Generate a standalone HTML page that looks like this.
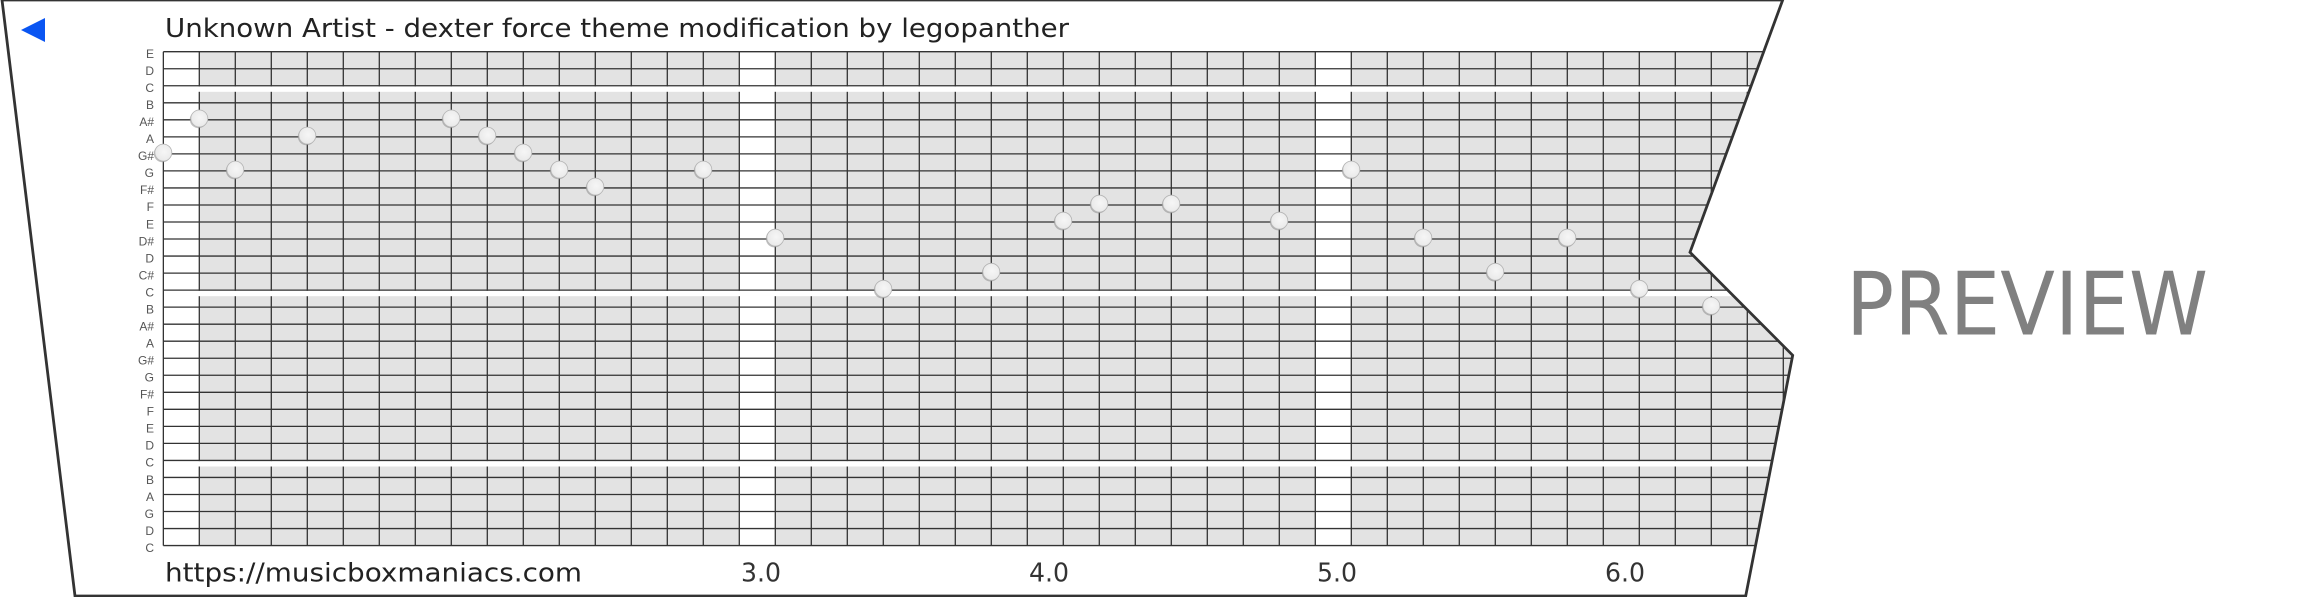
<!DOCTYPE html>
<html><head><meta charset="utf-8"><style>
html,body{margin:0;padding:0;background:#fff;}
svg{display:block;}
text{font-family:"Liberation Sans","DejaVu Sans",sans-serif;}
.dj{font-family:"DejaVu Sans","Liberation Sans",sans-serif;}
</style></head><body>
<svg width="2310" height="597" viewBox="0 0 2310 597" xmlns="http://www.w3.org/2000/svg">
<defs>
<clipPath id="cp"><polygon points="2,0 1782.7,0 1690,252.3 1792.7,355.3 1745.7,596 75,596"/></clipPath>
<radialGradient id="ng" cx="0.55" cy="0.45" r="0.6"><stop offset="0" stop-color="#f6f6f6"/><stop offset="0.8" stop-color="#ebebeb"/><stop offset="1" stop-color="#dcdcdc"/></radialGradient>
</defs>
<rect width="2310" height="597" fill="#fff"/>
<g clip-path="url(#cp)">
<rect x="199.3" y="51.7" width="1700" height="493.87" fill="#e3e3e3"/>
<rect x="739.3" y="40" width="36" height="520" fill="#fff"/>
<rect x="1315.3" y="40" width="36" height="520" fill="#fff"/>
<path stroke="#333" stroke-width="1.3" fill="none" d="
M199.3 51.7V545.57 M235.3 51.7V545.57 M271.3 51.7V545.57 M307.3 51.7V545.57 M343.3 51.7V545.57
M379.3 51.7V545.57 M415.3 51.7V545.57 M451.3 51.7V545.57 M487.3 51.7V545.57 M523.3 51.7V545.57
M559.3 51.7V545.57 M595.3 51.7V545.57 M631.3 51.7V545.57 M667.3 51.7V545.57 M703.3 51.7V545.57
M739.3 51.7V545.57 M775.3 51.7V545.57 M811.3 51.7V545.57 M847.3 51.7V545.57 M883.3 51.7V545.57
M919.3 51.7V545.57 M955.3 51.7V545.57 M991.3 51.7V545.57 M1027.3 51.7V545.57 M1063.3 51.7V545.57
M1099.3 51.7V545.57 M1135.3 51.7V545.57 M1171.3 51.7V545.57 M1207.3 51.7V545.57 M1243.3 51.7V545.57
M1279.3 51.7V545.57 M1315.3 51.7V545.57 M1351.3 51.7V545.57 M1387.3 51.7V545.57 M1423.3 51.7V545.57
M1459.3 51.7V545.57 M1495.3 51.7V545.57 M1531.3 51.7V545.57 M1567.3 51.7V545.57 M1603.3 51.7V545.57
M1639.3 51.7V545.57 M1675.3 51.7V545.57 M1711.3 51.7V545.57 M1747.3 51.7V545.57 M1783.3 51.7V545.57"/>
<rect x="164" y="86.4" width="1750" height="5.4" fill="#fff"/>
<rect x="164" y="290.8" width="1750" height="5.4" fill="#fff"/>
<rect x="164" y="461.1" width="1750" height="5.4" fill="#fff"/>
<path stroke="#333" stroke-width="1.3" fill="none" d="
M163.3 51.7H1900 M163.3 68.73H1900 M163.3 85.76H1900 M163.3 102.79H1900 M163.3 119.82H1900
M163.3 136.85H1900 M163.3 153.88H1900 M163.3 170.91H1900 M163.3 187.94H1900 M163.3 204.97H1900
M163.3 222H1900 M163.3 239.03H1900 M163.3 256.06H1900 M163.3 273.09H1900 M163.3 290.12H1900
M163.3 307.15H1900 M163.3 324.18H1900 M163.3 341.21H1900 M163.3 358.24H1900 M163.3 375.27H1900
M163.3 392.3H1900 M163.3 409.33H1900 M163.3 426.36H1900 M163.3 443.39H1900 M163.3 460.42H1900
M163.3 477.45H1900 M163.3 494.48H1900 M163.3 511.51H1900 M163.3 528.54H1900 M163.3 545.57H1900
M163.35 51.7V545.57"/>
</g>
<polygon points="2,0 1782.7,0 1690,252.3 1792.7,355.3 1745.7,596 75,596" fill="none" stroke="#333" stroke-width="2.8" stroke-linejoin="miter"/>
<polygon points="21,30 45,18 45,42" fill="#0a55f2"/>
<text class="dj" x="165" y="37" font-size="26" fill="#222" textLength="904" lengthAdjust="spacingAndGlyphs">Unknown Artist - dexter force theme modification by legopanther</text>
<g font-size="12" fill="#555" text-anchor="end">
<text x="154" y="58">E</text>
<text x="154" y="75">D</text>
<text x="154" y="92">C</text>
<text x="154" y="109">B</text>
<text x="154" y="126">A#</text>
<text x="154" y="143">A</text>
<text x="154" y="160">G#</text>
<text x="154" y="177">G</text>
<text x="154" y="194">F#</text>
<text x="154" y="211">F</text>
<text x="154" y="228.3">E</text>
<text x="154" y="245.3">D#</text>
<text x="154" y="262.4">D</text>
<text x="154" y="279.4">C#</text>
<text x="154" y="296.4">C</text>
<text x="154" y="313.5">B</text>
<text x="154" y="330.5">A#</text>
<text x="154" y="347.5">A</text>
<text x="154" y="364.5">G#</text>
<text x="154" y="381.6">G</text>
<text x="154" y="398.6">F#</text>
<text x="154" y="415.6">F</text>
<text x="154" y="432.7">E</text>
<text x="154" y="449.7">D</text>
<text x="154" y="466.7">C</text>
<text x="154" y="483.8">B</text>
<text x="154" y="500.8">A</text>
<text x="154" y="517.8">G</text>
<text x="154" y="534.8">D</text>
<text x="154" y="551.9">C</text>
</g>
<g>
<g fill="#8c8c8c" opacity="0.55">
<circle cx="162.5" cy="153.6" r="8.7"/><circle cx="198.5" cy="119.5" r="8.7"/><circle cx="234.5" cy="170.6" r="8.7"/><circle cx="306.5" cy="136.6" r="8.7"/>
<circle cx="450.5" cy="119.5" r="8.7"/><circle cx="486.5" cy="136.6" r="8.7"/><circle cx="522.5" cy="153.6" r="8.7"/><circle cx="558.5" cy="170.6" r="8.7"/>
<circle cx="594.5" cy="187.6" r="8.7"/><circle cx="702.5" cy="170.6" r="8.7"/><circle cx="774.5" cy="238.7" r="8.7"/><circle cx="882.5" cy="289.8" r="8.7"/>
<circle cx="990.5" cy="272.8" r="8.7"/><circle cx="1062.5" cy="221.7" r="8.7"/><circle cx="1098.5" cy="204.7" r="8.7"/><circle cx="1170.5" cy="204.7" r="8.7"/>
<circle cx="1278.5" cy="221.7" r="8.7"/><circle cx="1350.5" cy="170.6" r="8.7"/><circle cx="1422.5" cy="238.7" r="8.7"/><circle cx="1494.5" cy="272.8" r="8.7"/>
<circle cx="1566.5" cy="238.7" r="8.7"/><circle cx="1638.5" cy="289.8" r="8.7"/><circle cx="1710.5" cy="306.9" r="8.7"/>
</g>
<g fill="url(#ng)" stroke="#b4b4b4" stroke-width="0.8">
<circle cx="163.3" cy="152.6" r="8.5"/><circle cx="199.3" cy="118.5" r="8.5"/><circle cx="235.3" cy="169.6" r="8.5"/><circle cx="307.3" cy="135.6" r="8.5"/>
<circle cx="451.3" cy="118.5" r="8.5"/><circle cx="487.3" cy="135.6" r="8.5"/><circle cx="523.3" cy="152.6" r="8.5"/><circle cx="559.3" cy="169.6" r="8.5"/>
<circle cx="595.3" cy="186.6" r="8.5"/><circle cx="703.3" cy="169.6" r="8.5"/><circle cx="775.3" cy="237.7" r="8.5"/><circle cx="883.3" cy="288.8" r="8.5"/>
<circle cx="991.3" cy="271.8" r="8.5"/><circle cx="1063.3" cy="220.7" r="8.5"/><circle cx="1099.3" cy="203.7" r="8.5"/><circle cx="1171.3" cy="203.7" r="8.5"/>
<circle cx="1279.3" cy="220.7" r="8.5"/><circle cx="1351.3" cy="169.6" r="8.5"/><circle cx="1423.3" cy="237.7" r="8.5"/><circle cx="1495.3" cy="271.8" r="8.5"/>
<circle cx="1567.3" cy="237.7" r="8.5"/><circle cx="1639.3" cy="288.8" r="8.5"/><circle cx="1711.3" cy="305.9" r="8.5"/>
</g>
</g>
<text class="dj" x="165" y="581.7" font-size="26" fill="#222" textLength="417" lengthAdjust="spacingAndGlyphs">https://musicboxmaniacs.com</text>
<g class="dj" font-size="25.5" fill="#333">
<text class="dj" x="741" y="581.7" textLength="40" lengthAdjust="spacingAndGlyphs">3.0</text>
<text class="dj" x="1029" y="581.7" textLength="40" lengthAdjust="spacingAndGlyphs">4.0</text>
<text class="dj" x="1317" y="581.7" textLength="40" lengthAdjust="spacingAndGlyphs">5.0</text>
<text class="dj" x="1605" y="581.7" textLength="40" lengthAdjust="spacingAndGlyphs">6.0</text>
</g>
<text class="dj" x="1846" y="334.3" font-size="87" fill="#808080" textLength="362" lengthAdjust="spacingAndGlyphs">PREVIEW</text>
</svg>
</body></html>
